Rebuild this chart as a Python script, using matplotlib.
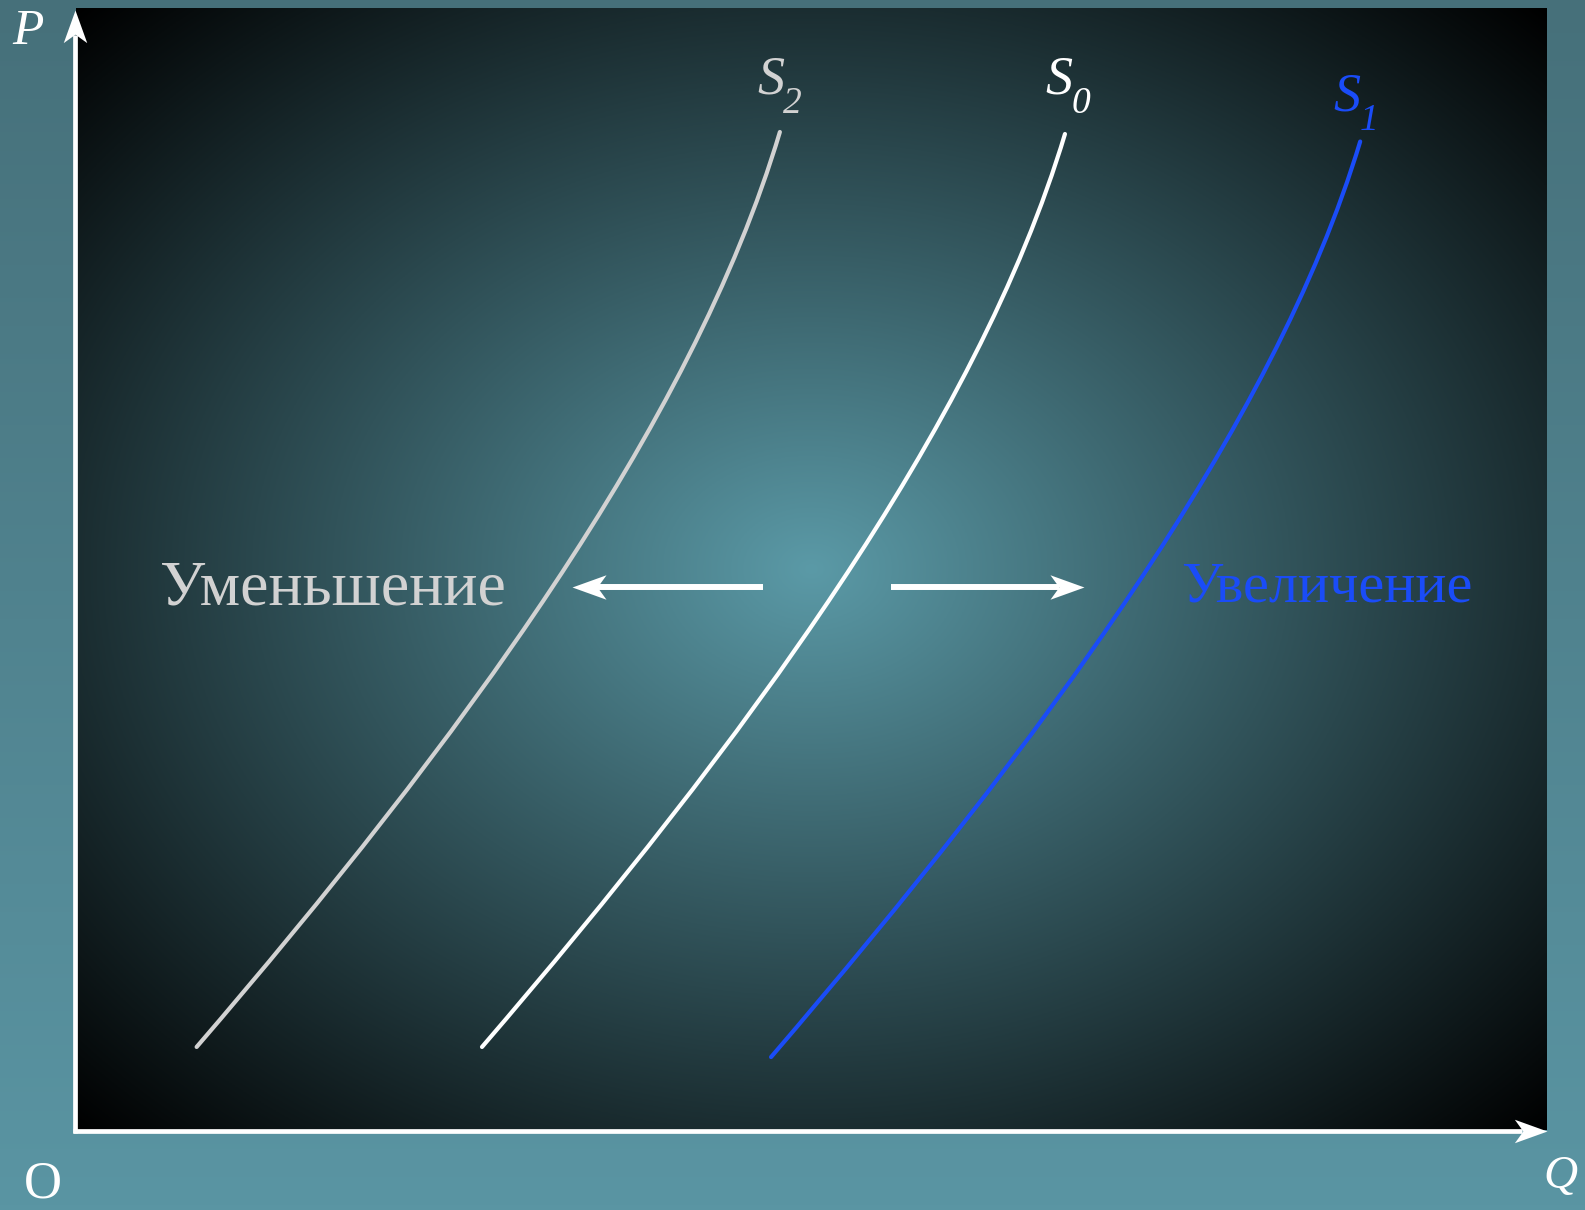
import numpy as np
import matplotlib
matplotlib.use('Agg')
import matplotlib.pyplot as plt
from matplotlib.colors import to_rgb
from matplotlib.path import Path
from matplotlib.patches import PathPatch

# supply curves as cubic Bezier control points
# (Q and P on a 0..100 scale; first and last points are the curve ends)
s0_q = [27.60, 45.27, 61.26, 67.23]
s0_p = [7.40, 34.33, 62.68, 88.77]
s2_q = [8.20, 25.87, 41.86, 47.85]
s2_p = [7.40, 34.33, 62.68, 88.95]
s1_q = [47.25, 65.47, 81.46, 87.30]
s1_p = [6.50, 34.33, 62.68, 88.10]

curve_names = ['2', '0', '1']
curve_label_pos = [(46.3, 92.4), (65.9, 92.4), (85.5, 90.9)]

text_decrease = 'Уменьшение'
text_increase = 'Увеличение'

GREY = '#d2d2d2'
WHITE = '#ffffff'
BLUE = '#1a4cf8'
SERIF = 'Liberation Serif'


def head(angle):
    # notched arrow head, tip at the origin, pointing along +x before rotation
    v = np.array([[0, 0], [-1, 0.36], [-0.74, 0], [-1, -0.36], [0, 0]])
    a = np.deg2rad(angle)
    rot = np.array([[np.cos(a), -np.sin(a)], [np.sin(a), np.cos(a)]])
    v = v @ rot.T
    return Path(v, [Path.MOVETO, Path.LINETO, Path.LINETO, Path.LINETO,
                    Path.CLOSEPOLY])


def arrow(ax, x0, y0, x1, y1, ang, lw, ms, back, **kw):
    # shaft stops inside the head, then the head sits on the tip
    dx = np.sign(x1 - x0) * back[0]
    dy = np.sign(y1 - y0) * back[1]
    ax.plot([x0, x1 - dx], [y0, y1 - dy], color='white', lw=lw,
            solid_capstyle='butt', clip_on=False, zorder=4, **kw)
    ax.plot([x1], [y1], marker=head(ang), ms=ms, color='white', mew=0,
            clip_on=False, zorder=5, **kw)


fig = plt.figure(figsize=(15.85, 12.10), dpi=100)

# outer background: vertical teal gradient
bg = fig.add_axes([0, 0, 1, 1])
top = np.array(to_rgb('#46707a'))
bot = np.array(to_rgb('#5a95a3'))
t = np.linspace(0, 1, 256)[:, None]
grad = top[None, :] * (1 - t) + bot[None, :] * t
bg.imshow(grad[:, None, :], aspect='auto', extent=[0, 1, 0, 1])
bg.set_axis_off()

# plot area with radial gradient
W, H = 1585, 1210
L, R, T, B = 76, 1547, 8, 1130
ax = fig.add_axes([L / W, 1 - B / H, (R - L) / W, (B - T) / H])
u = np.linspace(-1, 1, 500)
uu, vv = np.meshgrid(u, u)
r = np.sqrt(uu ** 2 + vv ** 2) / np.sqrt(2)
f = np.clip(1 - r, 0, 1)
center = np.array(to_rgb('#5b9aa7'))
img = center[None, None, :] * f[:, :, None]
ax.imshow(img, extent=[0, 100, 0, 100], aspect='auto', zorder=0)
ax.set_xlim(0, 100)
ax.set_ylim(0, 100)
ax.set_axis_off()

# curves
codes = [Path.MOVETO, Path.CURVE4, Path.CURVE4, Path.CURVE4]
for q, p, c in [(s2_q, s2_p, GREY), (s0_q, s0_p, WHITE), (s1_q, s1_p, BLUE)]:
    path = Path(np.column_stack([q, p]), codes)
    ax.add_patch(PathPatch(path, fill=False, edgecolor=c, lw=3.0,
                           capstyle='round', zorder=3))

# curve labels S with subscript
for (x, y), sub, c in zip(curve_label_pos, curve_names, [GREY, WHITE, BLUE]):
    ax.text(x, y, 'S', color=c, fontsize=39, family=SERIF, style='italic',
            ha='left', va='baseline')
    ax.annotate(sub, (x, y), xytext=(19, -14.5), textcoords='offset points',
                color=c, fontsize=27, family=SERIF, style='italic',
                ha='left', va='baseline')

# shift arrows
arrow(ax, 46.7, 48.4, 33.7, 48.4, 180, 4.3, 49, (1.7, 0))
arrow(ax, 55.4, 48.4, 68.5, 48.4, 0, 4.3, 49, (1.7, 0))

ax.text(5.7, 46.8, text_decrease, color=GREY, fontsize=46, family=SERIF,
        ha='left', va='baseline')
ax.text(75.1, 47.1, text_increase, color=BLUE, fontsize=42, family=SERIF,
        ha='left', va='baseline')

# axes with arrows (axes fraction)
arrow(ax, -0.0007, -0.0027, -0.0007, 0.998, 90, 3.4, 47, (0, 0.022),
      transform=ax.transAxes)
arrow(ax, -0.002, -0.0009, 1.0, -0.0009, 0, 3.4, 47, (0.017, 0),
      transform=ax.transAxes)

fig.text(12 / W, 1 - 44 / H, 'P', color='white', fontsize=37, family=SERIF,
         style='italic', ha='left', va='baseline')
fig.text(1543 / W, 1 - 1188 / H, 'Q', color='white', fontsize=34, family=SERIF,
         style='italic', ha='left', va='baseline')
fig.text(24 / W, 1 - 1197 / H, 'O', color='white', fontsize=38, family=SERIF,
         ha='left', va='baseline')

fig.savefig('out.png', dpi=100)
